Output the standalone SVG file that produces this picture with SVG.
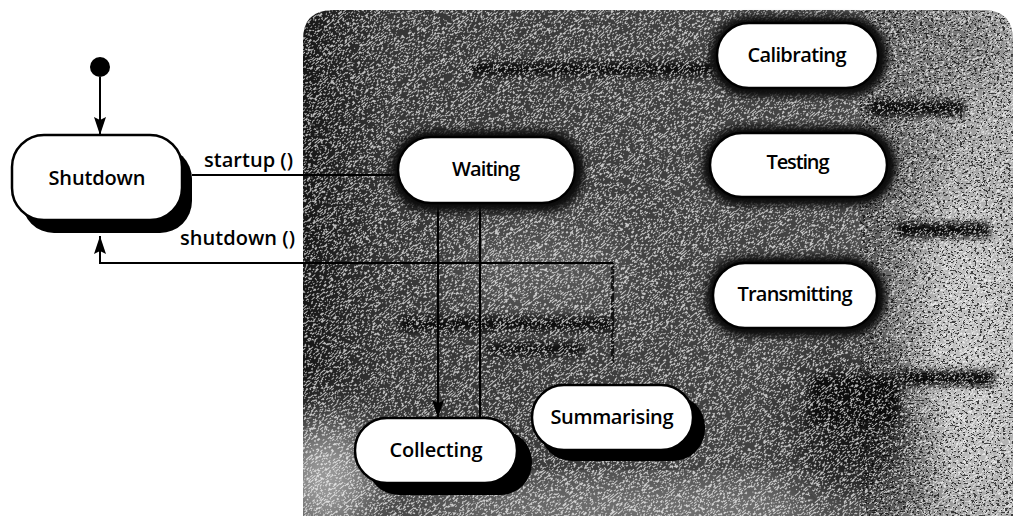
<svg xmlns="http://www.w3.org/2000/svg" width="1017" height="516" viewBox="0 0 1017 516">
<defs>
<style>
.node{fill:#fff;stroke:#000;stroke-width:2.5}
.shadow{fill:#000}
.halo{fill:#0a0a0a;filter:url(#soft)}
.lbl{font-family:"Open Sans","Noto Sans","Liberation Sans",sans-serif;font-weight:600;font-size:20px;fill:#000;text-anchor:middle}
.edge{font-family:"Open Sans","Noto Sans","Liberation Sans",sans-serif;font-weight:600;font-size:20px;fill:#000}
.conn{fill:none;stroke:#000;stroke-width:2}
.bar{fill:#111;filter:url(#soft)}
</style>
<marker id="arr" markerUnits="userSpaceOnUse" markerWidth="18" markerHeight="12" refX="18" refY="6" orient="auto">
<path d="M0,0 L18,6 L0,12 L3,6 Z" fill="#000"/>
</marker>
<clipPath id="bgclip">
<path d="M303,40 Q303,10 333,10 H983 Q1013,10 1013,40 V516 H303 Z"/>
</clipPath>
<linearGradient id="bgx" x1="303" y1="0" x2="1013" y2="0" gradientUnits="userSpaceOnUse">
<stop offset="0" stop-color="#161616"/>
<stop offset="0.12" stop-color="#363636"/>
<stop offset="0.5" stop-color="#404040"/>
<stop offset="0.76" stop-color="#464646"/>
<stop offset="0.86" stop-color="#707070"/>
<stop offset="0.93" stop-color="#9c9c9c"/>
<stop offset="1" stop-color="#aaa"/>
</linearGradient>
<filter id="soft" x="-20%" y="-50%" width="140%" height="200%">
<feGaussianBlur stdDeviation="3"/>
</filter>
<filter id="blob" x="-50%" y="-50%" width="200%" height="200%">
<feGaussianBlur stdDeviation="25"/>
</filter>
<filter id="speck" x="0" y="0" width="100%" height="100%">
<feTurbulence type="fractalNoise" baseFrequency="0.3 0.95" numOctaves="3" seed="7" result="t"/>
<feColorMatrix in="t" type="matrix" values="0 0 0 0 1  0 0 0 0 1  0 0 0 0 1  2.6 0 0 0 -0.75"/>
<feComponentTransfer><feFuncA type="discrete" tableValues="0 0 0 1"/></feComponentTransfer>
<feComposite in2="SourceGraphic" operator="in"/>
</filter>
<filter id="speckd" x="0" y="0" width="100%" height="100%">
<feTurbulence type="fractalNoise" baseFrequency="0.35 0.6" numOctaves="3" seed="19" result="t"/>
<feColorMatrix in="t" type="matrix" values="0 0 0 0 0  0 0 0 0 0  0 0 0 0 0  2.6 0 0 0 -0.85"/>
<feComponentTransfer><feFuncA type="discrete" tableValues="0 0 0 1"/></feComponentTransfer>
<feComposite in2="SourceGraphic" operator="in"/>
</filter>
</defs>
<rect width="1017" height="516" fill="#fff"/>

<g id="background" clip-path="url(#bgclip)">
<rect x="303" y="10" width="710" height="506" fill="url(#bgx)"/>
<ellipse cx="325" cy="480" rx="50" ry="60" fill="#a0a0a0" filter="url(#blob)"/>
<ellipse cx="640" cy="510" rx="240" ry="20" fill="#909090" filter="url(#blob)"/>
<ellipse cx="965" cy="340" rx="50" ry="160" fill="#c0c0c0" filter="url(#blob)"/>
<ellipse cx="850" cy="430" rx="55" ry="70" fill="#151515" filter="url(#blob)"/>
<ellipse cx="540" cy="270" rx="90" ry="45" fill="#5a5a5a" filter="url(#blob)"/>
<ellipse cx="960" cy="45" rx="45" ry="35" fill="#6a6a6a" filter="url(#blob)"/>
<rect class="bar" x="470" y="62" width="245" height="14"/>
<rect class="bar" x="870" y="100" width="95" height="16"/>
<rect class="bar" x="895" y="222" width="95" height="16"/>
<rect class="bar" x="900" y="370" width="95" height="16"/>
<rect class="bar" x="400" y="317" width="215" height="14"/>
<rect class="bar" x="488" y="343" width="95" height="12"/>
<rect class="bar" x="810" y="375" width="90" height="50"/>
<rect x="611" y="263" width="3" height="102" fill="#111"/>
<rect x="150" y="-250" width="1050" height="1050" fill="#fff" filter="url(#speck)" opacity="0.7" transform="rotate(-40 658 263)"/>
<rect x="860" y="10" width="153" height="506" fill="#000" filter="url(#speckd)" opacity="0.65"/>
</g>

<g id="connectors">
<line class="conn" x1="100" y1="77" x2="100" y2="135" marker-end="url(#arr)"/>
<line class="conn" x1="192" y1="175" x2="398" y2="175"/>
<path class="conn" d="M613,263 H100 V236" marker-end="url(#arr)"/>
<line class="conn" x1="438" y1="203" x2="438" y2="418" marker-end="url(#arr)"/>
<line class="conn" x1="480" y1="203" x2="480" y2="418"/>
<text class="edge" x="204" y="167" textLength="89">startup ()</text>
<text class="edge" x="180" y="245" textLength="115">shutdown ()</text>
</g>

<g id="initial">
<circle cx="100" cy="67" r="10" fill="#000"/>
</g>

<g id="shutdown">
<rect class="shadow" x="22" y="147" width="170" height="86" rx="32"/>
<rect class="node" x="12" y="135" width="170" height="85" rx="32"/>
<text class="lbl" x="97" y="185" textLength="97">Shutdown</text>
</g>

<g id="waiting">
<rect class="halo" x="390" y="130" width="195" height="82" rx="40"/>
<rect class="node" x="398" y="137" width="177" height="66" rx="33"/>
<text class="lbl" x="486" y="176" textLength="68">Waiting</text>
</g>

<g id="calibrating">
<rect class="halo" x="709" y="16" width="179" height="81" rx="40"/>
<rect class="node" x="717" y="23" width="161" height="65" rx="32"/>
<text class="lbl" x="797" y="62" textLength="99">Calibrating</text>
</g>

<g id="testing">
<rect class="halo" x="702" y="126" width="195" height="80" rx="40"/>
<rect class="node" x="710" y="133" width="177" height="64" rx="32"/>
<text class="lbl" x="798" y="169" textLength="63">Testing</text>
</g>

<g id="transmitting">
<rect class="halo" x="705" y="256" width="182" height="81" rx="40"/>
<rect class="node" x="713" y="263" width="164" height="65" rx="32"/>
<text class="lbl" x="795" y="301" textLength="115">Transmitting</text>
</g>

<g id="summarising">
<rect class="shadow" x="540" y="395" width="165" height="66" rx="32"/>
<rect class="node" x="532" y="385" width="161" height="65" rx="32"/>
<text class="lbl" x="612" y="424" textLength="123">Summarising</text>
</g>

<g id="collecting">
<rect class="shadow" x="367" y="430" width="165" height="65" rx="32"/>
<rect class="node" x="355" y="418" width="162" height="65" rx="32"/>
<text class="lbl" x="436" y="457" textLength="93">Collecting</text>
</g>
</svg>
